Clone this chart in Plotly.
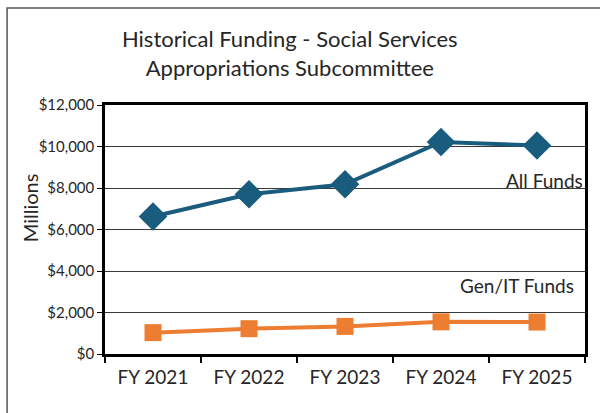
import plotly.graph_objects as go

years = ["FY 2021", "FY 2022", "FY 2023", "FY 2024", "FY 2025"]
all_funds = [6630, 7700, 8180, 10220, 10050]
gen_it_funds = [1030, 1220, 1330, 1550, 1540]
y_ticks = [0, 2000, 4000, 6000, 8000, 10000, 12000]
y_tick_text = ["$0", "$2,000", "$4,000", "$6,000", "$8,000", "$10,000", "$12,000"]

FONT = "Lato, 'Open Sans', sans-serif"
TEXT = "#262626"

fig = go.Figure()
fig.add_trace(go.Scatter(
    x=years, y=all_funds, mode="lines+markers", name="All Funds",
    line=dict(color="#1A5C7E", width=4),
    marker=dict(symbol="diamond", size=22, color="#1A5C7E"),
))
fig.add_trace(go.Scatter(
    x=years, y=gen_it_funds, mode="lines+markers", name="Gen/IT Funds",
    line=dict(color="#ED7D31", width=4),
    marker=dict(symbol="square", size=17, color="#ED7D31"),
))

fig.update_layout(
    width=600, height=413,
    margin=dict(l=105, r=13, t=105, b=59),
    paper_bgcolor="white", plot_bgcolor="white",
    showlegend=False,
    font=dict(family=FONT, color=TEXT),
    title=dict(
        text="Historical Funding - Social Services<br>Appropriations Subcommittee",
        x=0.483, xanchor="center", y=0.885, yanchor="middle",
        font=dict(size=22, family=FONT, color=TEXT),
    ),
    xaxis=dict(
        type="category", tickson="boundaries",
        ticks="outside", ticklen=6, tickwidth=1.5, tickcolor="black",
        showline=True, linecolor="black", linewidth=2.5, mirror=True,
        showgrid=False, tickfont=dict(size=19, color=TEXT),
        ticklabelstandoff=4,
        range=[-0.5, 4.5],
    ),
    yaxis=dict(
        range=[0, 12000], tickvals=y_ticks, ticktext=y_tick_text,
        ticks="outside", ticklen=5, tickcolor="black",
        showline=True, linecolor="black", linewidth=2.5, mirror=True,
        showgrid=True, gridcolor="#3a3a3a", gridwidth=1,
        tickfont=dict(size=15, color=TEXT),
        zeroline=False,
    ),
)

# y-axis title placed just left of the tick labels
fig.add_annotation(text="Millions", xref="paper", yref="paper",
                   x=-0.156, y=0.586, xanchor="center", yanchor="middle",
                   textangle=-90, showarrow=False,
                   font=dict(size=20, color=TEXT))

fig.add_annotation(text="All Funds", xref="paper", yref="paper",
                   x=1.0, y=0.695, xanchor="right", yanchor="middle",
                   showarrow=False, font=dict(size=19, color=TEXT))
fig.add_annotation(text="Gen/IT Funds", xref="paper", yref="paper",
                   x=0.982, y=0.277, xanchor="right", yanchor="middle",
                   showarrow=False, font=dict(size=19, color=TEXT))

# outer frame around the chart
fig.add_shape(type="rect", xref="paper", yref="paper",
              x0=-0.204, x1=1.2, y0=-0.5, y1=1.39,
              line=dict(color="#555555", width=1.5), layer="below")

fig.write_html("out.html")
